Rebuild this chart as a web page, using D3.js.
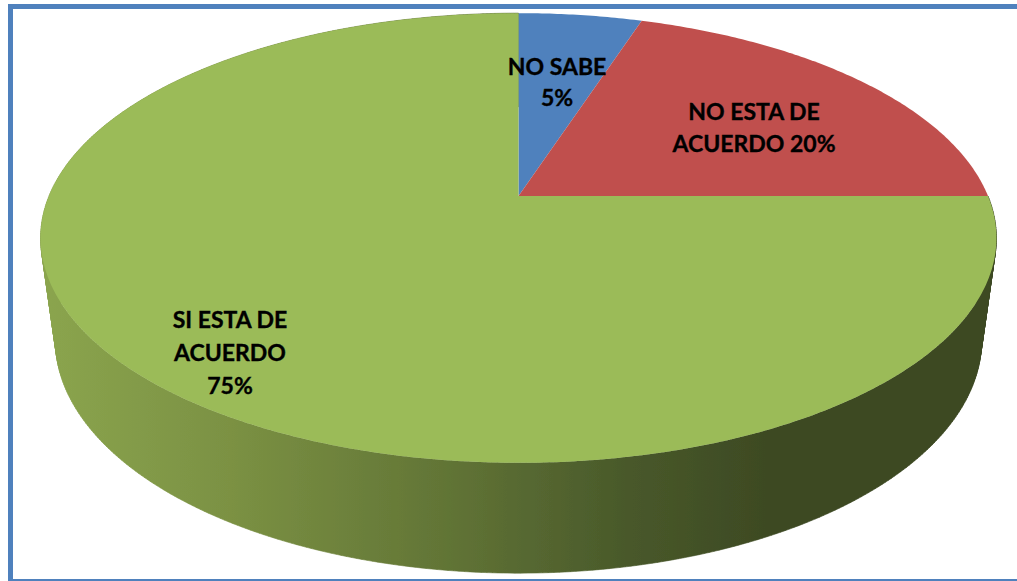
<!DOCTYPE html>
<html><head><meta charset="utf-8">
<script src="https://cdn.jsdelivr.net/npm/d3@7"></script>
<style>html,body{margin:0;padding:0;background:#fff;overflow:hidden}svg{display:block}text{font-family:Lato,sans-serif;font-weight:700;fill:#000;stroke:#000;stroke-width:0.35;text-anchor:middle}</style>
</head><body><div id="c"></div>
<script>
const categories = ["NO SABE", "NO ESTA DE ACUERDO", "SI ESTA DE ACUERDO"];
const values = [5, 20, 75];
const colors = ["#4f81bd", "#c0504d", "#9bbb59"];
const labelLines = [["NO SABE", "5%"], ["NO ESTA DE", "ACUERDO 20%"], ["SI ESTA DE", "ACUERDO", "75%"]];
const labelAnchors = [[557, 75], [754, 120], [230, 328]];
const labelGaps = [31, 32, 33];
const wallStops = [[0, "#8ba54e"], [0.2, "#7b9143"], [0.42, "#627536"], [0.62, "#48582a"], [0.78, "#3c4822"], [1, "#3c4822"]];

const W = 1017, H = 581;
const svg = d3.select("#c").append("svg").attr("width", W).attr("height", H);
const defs = svg.append("defs");
defs.append("filter").attr("id", "soft").attr("x", "-2%").attr("y", "-2%").attr("width", "104%").attr("height", "104%")
  .append("feGaussianBlur").attr("stdDeviation", 0.6);
const grad = defs.append("linearGradient").attr("id", "wall").attr("gradientUnits", "userSpaceOnUse")
  .attr("x1", 40).attr("x2", 996).attr("y1", 0).attr("y2", 0);
wallStops.forEach(s => grad.append("stop").attr("offset", s[0]).attr("stop-color", s[1]));

// perspective projection of the pie's top and bottom discs
const k = 0.1867;
const topDisc = {cx: 518.5, cy: 196, a: 469.5, b: 217};
const botDisc = {cx: 518.5, cy: 296.5, a: 455, b: 225};
const project = (d, t) => {
  const u = Math.sin(t), v = Math.cos(t), w = 1 + k * v;
  return [d.cx + d.a * u / w, d.cy - d.b * v / w];
};
const pie = d3.pie().sort(null).value(d => d);
const arcs = pie(values);
const samples = (a0, a1) => {
  const n = Math.max(2, Math.ceil((a1 - a0) / 0.01));
  return d3.range(n + 1).map(i => a0 + (a1 - a0) * i / n);
};
const line = d3.line();
const g = svg.append("g").attr("filter", "url(#soft)");

// side wall: front-facing part of the last slice
const frontArc = arcs[2];
const ts = samples(frontArc.startAngle, frontArc.endAngle);
let wall = "";
ts.slice(1).forEach((t, i) => {
  const t0 = ts[i];
  let q = [project(topDisc, t0), project(topDisc, t), project(botDisc, t), project(botDisc, t0)];
  if (d3.polygonArea(q) < 0) q = q.reverse();
  wall += line(q) + "Z";
});
g.append("path").attr("d", wall).attr("fill", "url(#wall)").attr("stroke", "url(#wall)").attr("stroke-width", 0.6);

// top faces
g.selectAll("path.slice").data(arcs).join("path").attr("class", "slice")
  .attr("fill", (d, i) => colors[i])
  .attr("d", d => line([[topDisc.cx, topDisc.cy], ...samples(d.startAngle, d.endAngle).map(t => project(topDisc, t))]) + "Z");

// frame
svg.append("path").attr("fill", "#4f81bd")
  .attr("d", `M8 581V4H1017V9H13V579H1017V581Z`);

// labels
arcs.forEach((d, i) => {
  labelLines[i].forEach((s, j) => {
    svg.append("text").attr("x", labelAnchors[i][0]).attr("y", labelAnchors[i][1] + j * labelGaps[i])
      .attr("font-size", 23).text(s);
  });
});
</script></body></html>
